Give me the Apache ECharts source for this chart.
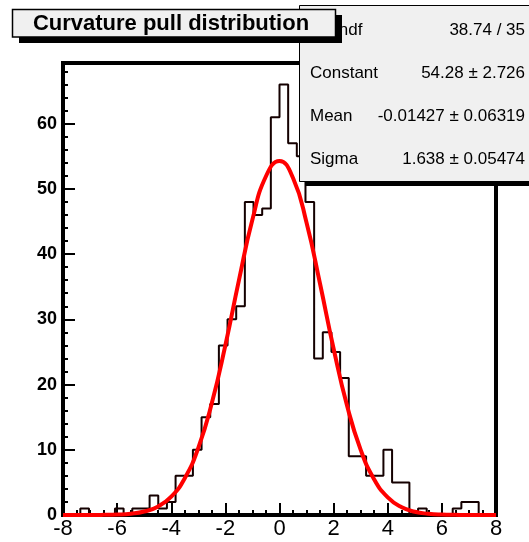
<!DOCTYPE html>
<html><head><meta charset="utf-8">
<script src="https://cdn.jsdelivr.net/npm/echarts@6/dist/echarts.min.js"></script>
<style>html,body{margin:0;padding:0;background:#fff}#c{width:529px;height:542px}</style>
</head><body><div id="c"></div>
<script>
// ---- data ----
const histMin = -8, histMax = 8;
const binCounts = [0,0,1,0,0,0,1,0,1,1,
                   3,1,2,6,6,10,15,17,26,30,
                   32,48,46,47,61,66,57,55,48,24,
                   28,25,21,9,9,6,6,10,5,5,
                   0,1,0,0,0,1,2,2,0,0];
const fitX = [-8,-7.5,-7,-6.5,-6,-5.5,-5,-4.5,-4,-3.5,-3,-2.5,-2,-1.5,-1,-0.5,0,0.5,1,1.5,2,2.5,3,3.5,4,4.5,5,5.5,6,6.5,7,7.5,8];
const fitY = [0,0,0,0.02,0.07,0.20,0.53,1.28,2.81,5.64,10.30,17.16,26.02,35.97,45.29,51.94,54.28,51.67,44.81,35.41,25.49,16.71,9.99,5.44,2.70,1.22,0.50,0.19,0.06,0.02,0,0,0];
const yMax = 69.3;
const titleText = 'Curvature pull distribution';
const statsLabels = ['\u03C7\u00B2 / ndf','Constant','Mean','Sigma'];
const statsValues = ['38.74 / 35','54.28 \u00B1 2.726','-0.01427 \u00B1 0.06319','1.638 \u00B1 0.05474'];

// ---- build ----
const FONT = "'Liberation Sans', Arial, Helvetica, sans-serif";
const nBins = binCounts.length;
const bw = (histMax - histMin) / nBins;
const histData = binCounts.map((c, i) => [histMin + i * bw, c]);
histData.push([histMax, binCounts[nBins - 1]]);
histData.push([histMax, 0]);
const fitData = fitX.map((x, i) => [x, fitY[i]]);

const chart = echarts.init(document.getElementById('c'), null, {renderer: 'canvas'});

const statsRowsY = [30, 73, 116, 159];
const graphics = [
  {type: 'rect', shape: {x: 305, y: 10, width: 240, height: 176}, style: {fill: '#000'}, z: 100},
  {type: 'rect', shape: {x: 299.5, y: 5.5, width: 240, height: 176}, style: {fill: '#f0f0f0', stroke: '#000', lineWidth: 1}, z: 101}
];
statsLabels.forEach((t, i) => {
  graphics.push({type: 'text', x: 310, y: statsRowsY[i], z: 102,
    style: {text: t, font: '17px ' + FONT, fill: '#000', textAlign: 'left', textVerticalAlign: 'middle'}});
  graphics.push({type: 'text', x: 525, y: statsRowsY[i], z: 102,
    style: {text: statsValues[i], font: '17px ' + FONT, fill: '#000', textAlign: 'right', textVerticalAlign: 'middle'}});
});
graphics.push(
  {type: 'rect', shape: {x: 19, y: 15, width: 323, height: 28}, style: {fill: '#000'}, z: 110},
  {type: 'rect', shape: {x: 12.5, y: 9.5, width: 323, height: 27.5}, style: {fill: '#f0f0f0', stroke: '#000', lineWidth: 1.5}, z: 111},
  {type: 'text', x: 171, y: 23.5, z: 112,
    style: {text: titleText, font: 'bold 22px ' + FONT, fill: '#000', textAlign: 'center', textVerticalAlign: 'middle'}}
);

chart.setOption({
  animation: false,
  backgroundColor: '#fff',
  grid: {left: 63, right: 33, top: 63, bottom: 27, show: true, borderColor: '#000', borderWidth: 4, backgroundColor: 'transparent'},
  xAxis: {
    type: 'value', min: histMin, max: histMax, interval: 2, position: 'bottom',
    axisLine: {show: false, onZero: false},
    axisTick: {show: true, inside: true, length: 12, lineStyle: {color: '#000', width: 2}},
    minorTick: {show: true, splitNumber: 4, length: 5, lineStyle: {color: '#000', width: 2}},
    splitLine: {show: false}, minorSplitLine: {show: false},
    axisLabel: {fontSize: 22, fontFamily: FONT, color: '#000', margin: 3, showMinLabel: true, showMaxLabel: true}
  },
  yAxis: [{
    type: 'value', min: 0, max: yMax, interval: 10, position: 'left',
    axisLine: {show: false, onZero: false},
    axisTick: {show: true, inside: true, length: 12, lineStyle: {color: '#000', width: 2}},
    splitLine: {show: false},
    axisLabel: {fontSize: 18, fontWeight: 'bold', fontFamily: FONT, color: '#000', margin: 6, showMaxLabel: false,
      formatter: v => (Math.abs(v - Math.round(v)) < 1e-6 && v % 10 === 0) ? String(v) : ''}
  }, {
    type: 'value', min: 0, max: yMax, interval: 2, position: 'left', offset: 0,
    axisLine: {show: false, onZero: false},
    axisTick: {show: true, inside: true, length: 5, lineStyle: {color: '#000', width: 2}},
    splitLine: {show: false},
    axisLabel: {show: false}
  }],
  series: [{
    type: 'line', data: histData, step: 'end', showSymbol: false, symbol: 'none',
    lineStyle: {color: '#140000', width: 2}, z: 3, xAxisIndex: 0, yAxisIndex: 0
  }, {
    type: 'line', data: fitData, smooth: true, showSymbol: false, symbol: 'none',
    lineStyle: {color: '#ff0000', width: 4}, z: 4, xAxisIndex: 0, yAxisIndex: 0
  }],
  graphic: graphics
});
</script>
</body></html>
